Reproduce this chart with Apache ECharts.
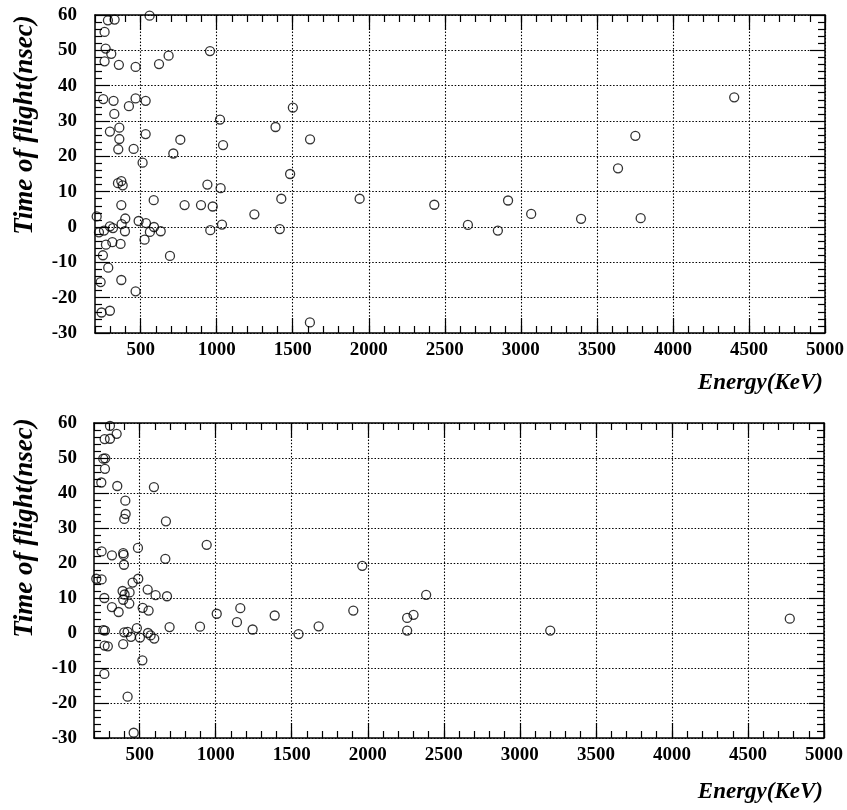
<!DOCTYPE html>
<html>
<head>
<meta charset="utf-8">
<script src="https://cdn.jsdelivr.net/npm/echarts@6/dist/echarts.min.js"></script>
<style>
html, body { margin: 0; padding: 0; background: #fff; }
#chart { width: 847px; height: 810px; }
</style>
</head>
<body>
<div id="chart"></div>
<script>
// Axis ranges and tick values
const energyRange = [200, 5000];
const timeRange = [-30, 60];
const energyTicks = [500, 1000, 1500, 2000, 2500, 3000, 3500, 4000, 4500, 5000];

// Upper panel: energy (keV) and time of flight (ns) of each event
const upperEnergy = [285, 329, 559, 263, 270, 307, 263, 357, 467, 621, 684, 956,
  254, 322, 467, 533, 423, 327, 1022, 360, 298, 360, 533, 761, 1042, 353, 454, 715, 513,
  351, 373, 382, 939, 1026, 373, 586, 789, 897, 974, 1248, 211, 399, 487, 535, 588, 1035,
  298, 318, 375, 226, 259, 397, 561, 632, 958, 272, 314, 368, 526, 693, 252, 287, 237,
  373, 467, 243, 298,
  1387, 1501, 1483, 1425, 1415, 1614, 1613, 1940, 2431, 2652, 2849, 2916, 3068, 3396,
  3788, 3639, 3753, 4403];
const upperTime = [58.5, 58.7, 59.8, 55.2, 50.5, 49.0, 46.9, 45.9, 45.3, 46.1, 48.5, 49.8,
  36.2, 35.7, 36.4, 35.7, 34.2, 32.0, 30.4, 28.1, 27.0, 24.9, 26.3, 24.7, 23.2, 22.0, 22.1, 20.8, 18.2,
  12.4, 13.0, 11.8, 12.0, 11.0, 6.2, 7.6, 6.2, 6.2, 5.8, 3.6, 3.0, 2.4, 1.7, 1.1, 0.0, 0.7,
  0.2, -0.3, 0.8, -1.5, -1.0, -1.2, -1.4, -1.2, -0.9, -5.0, -4.3, -4.8, -3.6, -8.2, -8.0, -11.5, -15.6,
  -15.0, -18.2, -24.2, -23.7,
  28.3, 33.8, 15.0, 8.0, -0.6, 24.8, -27.0, 8.0, 6.3, 0.6, -1.0, 7.5, 3.7, 2.3,
  2.5, 16.6, 25.8, 36.7];

// Lower panel: energy (keV) and time of flight (ns) of each event
const lowerEnergy = [305, 349, 305, 270, 261, 274, 272, 248, 353, 594, 406, 408, 399, 673,
  941, 489, 250, 318, 392, 395, 397, 669, 215, 250, 491, 454, 388, 434, 401, 392, 432,
  553, 605, 680, 268, 318, 362, 520, 559, 1007, 1162, 1140, 1243, 897, 697, 482, 261, 272,
  399, 421, 443, 502, 555, 572, 596, 270, 291, 392, 518, 268, 421, 461,
  1388, 1545, 1677, 1905, 1964, 2259, 2301, 2259, 2384, 3200, 4775];
const lowerTime = [59.2, 56.9, 55.5, 55.4, 49.8, 49.9, 46.9, 43.0, 42.0, 41.7, 37.8, 34.0, 32.6, 31.9,
  25.2, 24.3, 23.3, 22.2, 22.8, 22.3, 19.5, 21.2, 15.5, 15.3, 15.5, 14.4, 12.0, 11.6, 11.0, 9.5, 8.4,
  12.4, 10.8, 10.5, 10.0, 7.4, 6.0, 7.2, 6.4, 5.5, 7.1, 3.1, 1.0, 1.8, 1.7, 1.4, 0.8, 0.7,
  0.2, 0.3, -1.1, -1.3, 0.0, -0.7, -1.6, -3.6, -3.8, -3.2, -7.8, -11.7, -18.2, -28.5,
  5.0, -0.3, 1.9, 6.4, 19.2, 4.3, 5.2, 0.7, 10.9, 0.7, 4.1];

const SERIF = '"Liberation Serif", "DejaVu Serif", serif';
const INK = '#000';

function pairs(xs, ys) {
  return xs.map((x, i) => [x, ys[i]]);
}

const plain = (v) => String(v);
const frameLine = { show: true, onZero: false, lineStyle: { color: INK, width: 1.5 } };
const tickLine = { color: INK, width: 1.2 };
const dotted = { show: true, lineStyle: { color: INK, width: 1.1, type: [1.5, 1.8] } };
const tickFont = { color: INK, fontFamily: SERIF, fontWeight: 'bold', fontSize: 19, formatter: plain };

// Four x axes per panel: major + minor ticks on both the bottom and the top edge
function energyAxes(g) {
  const base = { gridIndex: g, type: 'value', min: energyRange[0], max: energyRange[1] };
  const major = (pos, labels) => Object.assign({}, base, {
    position: pos,
    axisLine: frameLine,
    axisTick: { show: true, inside: true, length: 15, customValues: energyTicks, lineStyle: tickLine },
    axisLabel: labels
      ? Object.assign({ show: true, margin: 8, customValues: energyTicks }, tickFont)
      : { show: false },
    splitLine: labels ? dotted : { show: false }
  });
  const minor = (pos) => Object.assign({}, base, {
    position: pos,
    interval: 100,
    axisLine: { show: false, onZero: false },
    axisTick: { show: true, inside: true, length: 7, lineStyle: tickLine },
    axisLabel: { show: false },
    splitLine: { show: false }
  });
  return [major('bottom', true), minor('bottom'), major('top', false), minor('top')];
}

// Left and right y axes per panel
function timeAxes(g, margin) {
  const base = {
    gridIndex: g, type: 'value', min: timeRange[0], max: timeRange[1], interval: 10,
    axisLine: frameLine,
    axisTick: { show: true, inside: true, length: 15, lineStyle: tickLine },
    minorTick: { show: true, splitNumber: 5, length: 7, lineStyle: tickLine }
  };
  return [
    Object.assign({}, base, {
      position: 'left',
      axisLabel: Object.assign({ show: true, margin: margin }, tickFont),
      splitLine: dotted
    }),
    Object.assign({}, base, {
      position: 'right',
      axisLabel: { show: false },
      splitLine: { show: false }
    })
  ];
}

const circle = {
  type: 'scatter',
  symbol: 'circle',
  symbolSize: 9,
  itemStyle: { color: 'rgba(255,255,255,0)', borderColor: INK, borderWidth: 1.3 },
  emphasis: { disabled: true },
  silent: true
};

const nameStyle = (text, size) => ({
  text: text,
  fill: INK,
  fontFamily: SERIF,
  fontWeight: 'bold',
  fontStyle: 'italic',
  fontSize: size,
  align: 'center',
  verticalAlign: 'middle'
});

const chart = echarts.init(document.getElementById('chart'), null, { renderer: 'canvas' });
chart.setOption({
  backgroundColor: '#fff',
  animation: false,
  grid: [
    { left: 95, right: 22, top: 15, height: 318 },
    { left: 94, right: 23, top: 423, height: 315 }
  ],
  xAxis: energyAxes(0).concat(energyAxes(1)),
  yAxis: timeAxes(0, 18).concat(timeAxes(1, 17)),
  series: [
    Object.assign({}, circle, { xAxisIndex: 0, yAxisIndex: 0, data: pairs(upperEnergy, upperTime) }),
    Object.assign({}, circle, { xAxisIndex: 4, yAxisIndex: 2, data: pairs(lowerEnergy, lowerTime) })
  ],
  graphic: [
    { type: 'text', x: 25, y: 125, rotation: Math.PI / 2, style: nameStyle('Time of flight(nsec)', 27) },
    { type: 'text', x: 25, y: 528, rotation: Math.PI / 2, style: nameStyle('Time of flight(nsec)', 27) },
    { type: 'text', x: 823, y: 383, style: Object.assign(nameStyle('Energy(KeV)', 23), { align: 'right' }) },
    { type: 'text', x: 823, y: 792, style: Object.assign(nameStyle('Energy(KeV)', 23), { align: 'right' }) }
  ]
});
</script>
</body>
</html>
